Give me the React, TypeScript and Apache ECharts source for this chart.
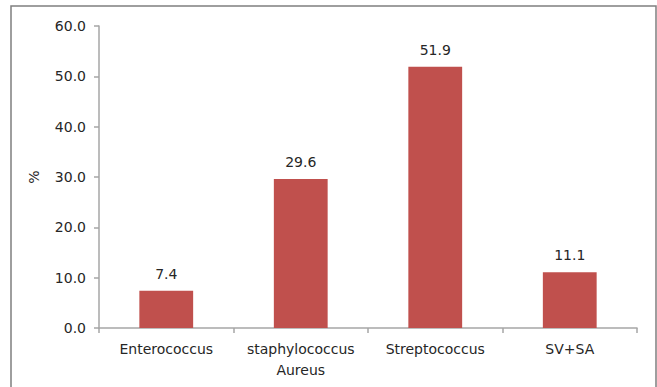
import React, { useEffect, useRef } from "react";
import * as echarts from "echarts";

const categories = ["Enterococcus", "staphylococcus\nAureus", "Streptococcus", "SV+SA"];
const percentages = [7.4, 29.6, 51.9, 11.1];
const yTicks = { min: 0, max: 60, interval: 10 };

const FONT = "'DejaVu Sans', 'Liberation Sans', Arial, sans-serif";
const AXIS_GRAY = "#a6a6a6";
const TEXT = "#262626";

export default function App() {
  const ref = useRef<HTMLDivElement>(null);

  useEffect(() => {
    if (!ref.current) return;
    const chart = echarts.init(ref.current, null, { renderer: "svg" });
    chart.setOption({
      animation: false,
      backgroundColor: "#ffffff",
      textStyle: { fontFamily: FONT },
      grid: { left: 99, right: 20, top: 26, bottom: 59 },
      graphic: [
        {
          type: "rect",
          shape: { x: 11, y: 6, width: 645, height: 420 },
          style: { fill: "none", stroke: "#7f7f7f", lineWidth: 1.5 },
          silent: true,
        },
      ],
      xAxis: {
        type: "category",
        data: categories,
        axisLine: { show: true, lineStyle: { color: AXIS_GRAY, width: 1.5 } },
        axisTick: { show: true, length: 5, lineStyle: { color: AXIS_GRAY, width: 1.5 } },
        axisLabel: {
          color: TEXT,
          fontSize: 14,
          fontFamily: FONT,
          lineHeight: 21,
          margin: 10,
          interval: 0,
        },
        splitLine: { show: false },
      },
      yAxis: {
        type: "value",
        min: yTicks.min,
        max: yTicks.max,
        interval: yTicks.interval,
        name: "%",
        nameLocation: "middle",
        nameGap: 58,
        nameRotate: 90,
        nameTextStyle: { color: TEXT, fontSize: 14, fontFamily: FONT },
        axisLine: { show: true, lineStyle: { color: AXIS_GRAY, width: 1.5 } },
        axisTick: { show: true, inside: false, length: 5, lineStyle: { color: AXIS_GRAY, width: 1.5 } },
        axisLabel: {
          color: TEXT,
          fontSize: 14,
          fontFamily: FONT,
          margin: 13,
          formatter: (v: number) => v.toFixed(1),
        },
        splitLine: { show: false },
      },
      series: [
        {
          type: "bar",
          data: percentages,
          barWidth: "40%",
          itemStyle: { color: "#c0504d" },
          label: {
            show: true,
            position: "top",
            distance: 10,
            color: TEXT,
            fontSize: 14,
            fontFamily: FONT,
            formatter: (p: any) => Number(p.value).toFixed(1),
          },
        },
      ],
    });
    return () => chart.dispose();
  }, []);

  return (
    <div
      ref={ref}
      style={{ position: "fixed", left: 0, top: 0, width: 657, height: 387, background: "#fff" }}
    />
  );
}
